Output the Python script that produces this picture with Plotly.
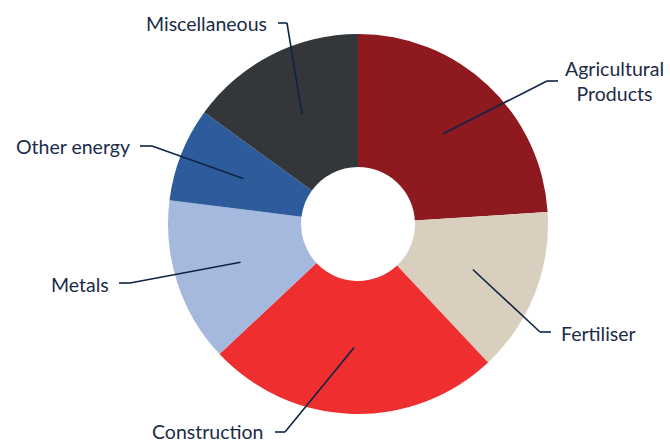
import math
import plotly.graph_objects as go

# Share of total by category (percent)
categories = ["Agricultural Products", "Fertiliser", "Construction", "Metals",
              "Other energy", "Miscellaneous"]
values = [24, 14, 25, 14, 8, 15]
label_texts = ["Agricultural<br>Products", "Fertiliser", "Construction", "Metals",
               "Other energy", "Miscellaneous"]
colors = ["#8E191E", "#D9CFBE", "#EE2E2F", "#A5B9DE", "#2D5B9B", "#333739"]

W, H = 670, 443
CX, CY, R = 358, 224, 190          # donut centre and outer radius (px)
HOLE = 0.30
LINE_COLOR = "#0F2444"
TEXT_COLOR = "#1B2B48"

# Label layout: elbow point, end of short horizontal tick, text anchor (px)
label_layout = {
    "Agricultural Products": dict(elbow=(547, 81), tick=(558, 81), text=(614, 81), anchor="center"),
    "Fertiliser": dict(elbow=(540, 332), tick=(551, 332), text=(559, 333), anchor="left"),
    "Construction": dict(elbow=(285, 432), tick=(275, 432), text=(265, 431), anchor="right"),
    "Metals": dict(elbow=(130, 283), tick=(119, 283), text=(111, 284), anchor="right"),
    "Other energy": dict(elbow=(152, 146), tick=(140, 146), text=(132, 147), anchor="right"),
    "Miscellaneous": dict(elbow=(287, 23), tick=(278, 23), text=(269, 23), anchor="right"),
}


def px(x, y):
    return x / W, 1 - y / H


fig = go.Figure(go.Pie(
    labels=categories,
    values=values,
    marker=dict(colors=colors, line=dict(width=0)),
    hole=HOLE,
    sort=False,
    direction="clockwise",
    rotation=0,
    textinfo="none",
    hoverinfo="label+percent",
    domain=dict(x=[(CX - R) / W, (CX + R) / W], y=[1 - (CY + R) / H, 1 - (CY - R) / H]),
    showlegend=False,
))

total = sum(values)
cum = 0
shapes, annotations = [], []
for cat, v, txt in zip(categories, values, label_texts):
    mid = (cum + v / 2) / total * 2 * math.pi
    cum += v
    r = R * (1 + HOLE) / 2
    ax, ay = CX + r * math.sin(mid), CY - r * math.cos(mid)
    lay = label_layout[cat]
    pts = [(ax, ay), lay["elbow"], lay["tick"]]
    for (x0, y0), (x1, y1) in zip(pts[:-1], pts[1:]):
        p0, p1 = px(x0, y0), px(x1, y1)
        shapes.append(dict(type="line", xref="paper", yref="paper",
                           x0=p0[0], y0=p0[1], x1=p1[0], y1=p1[1],
                           line=dict(color=LINE_COLOR, width=1.6)))
    tx, ty = px(*lay["text"])
    annotations.append(dict(x=tx, y=ty, xref="paper", yref="paper", text=txt,
                            showarrow=False, xanchor=lay["anchor"], yanchor="middle",
                            align="center",
                            font=dict(family="Lato", size=19.5, color=TEXT_COLOR)))

fig.update_layout(
    width=W, height=H,
    margin=dict(l=0, r=0, t=0, b=0),
    paper_bgcolor="white",
    plot_bgcolor="white",
    shapes=shapes,
    annotations=annotations,
)

fig.write_html("out.html")
